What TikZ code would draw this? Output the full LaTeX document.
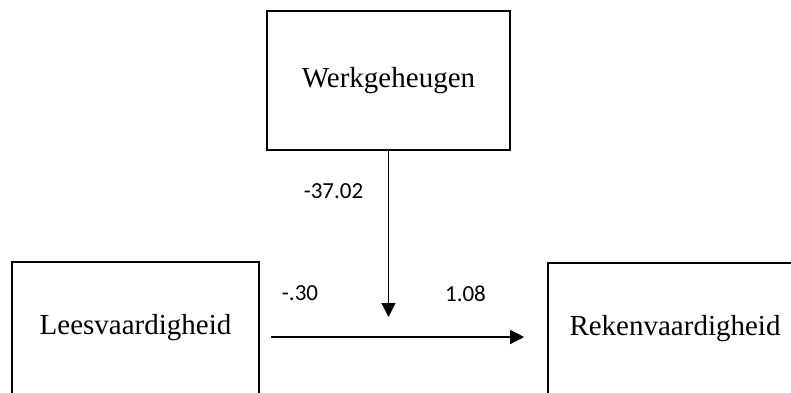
\documentclass[tikz,border=0pt]{standalone}
\usepackage{fontspec}
\setmainfont{Liberation Serif}
\newfontfamily\lblfont{Carlito}
\usetikzlibrary{arrows.meta,calc}

\begin{document}
\begin{tikzpicture}[
    x=1pt, y=-1pt,
    var/.style={draw, line width=1.6pt, align=center, inner sep=0pt, font=\fontsize{29}{34}\selectfont},
    coef/.style={font=\lblfont\fontsize{23}{27}\selectfont, inner sep=0pt},
    arr/.style={-{Triangle[length=14pt,width=14pt]}, line width=1.2pt}
]
\clip (0,0) rectangle (791,392);

\node[var, minimum width=243pt, minimum height=139pt] (werk) at (388.5,80.5) {Werkgeheugen};
\node[var, minimum width=247pt, minimum height=132pt] (lees) at (135.5,328) {Leesvaardigheid};
\node[var, minimum width=254pt, minimum height=131pt] (reken) at (675,328.5) {Rekenvaardigheid};

\coordinate (join) at (werk.south |- 0,337);
\draw[arr] (werk.south) -- ([yshift=20pt]join);
\draw[arr, shorten <=11pt, shorten >=23pt] (lees.east |- join) -- (reken.west |- join);

\node[coef] (wcoef) at (333.5,191.5) {-37.02};
\node[coef] (lcoef) at (300,293) {-.30};
\node[coef] (rcoef) at (465.5,294) {1.08};
\end{tikzpicture}
\end{document}
